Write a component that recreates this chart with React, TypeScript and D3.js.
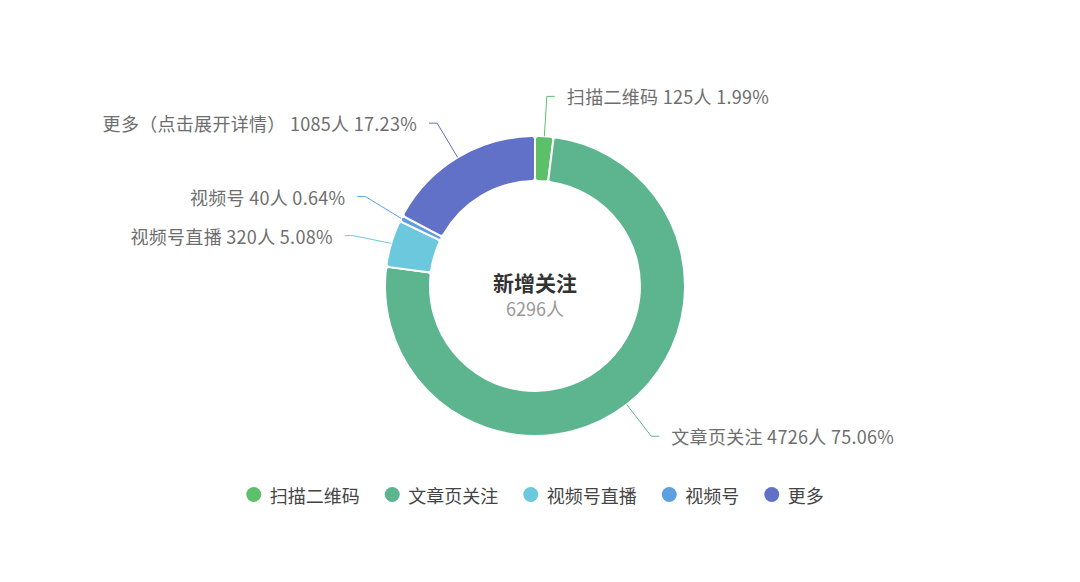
import React from 'react';
import * as d3 from 'd3';

const names = ['扫描二维码', '文章页关注', '视频号直播', '视频号', '更多'];
const labelNames = ['扫描二维码', '文章页关注', '视频号直播', '视频号', '更多（点击展开详情）'];
const values = [125, 4726, 320, 40, 1085];
const colors = ['#5cc06a', '#5db58f', '#6cc8dd', '#5e9fe0', '#6171c7'];
const centerTitle = '新增关注';
const unit = '人';

const W = 1080;
const H = 582;
const CX = 535;
const CY = 286;
const R_OUT = 150;
const R_IN = 105;
const LEN1 = 40;
const LEN2 = 8;
const TEXT_GAP = 12;
const MIN_GAP = 39;
const FONT = '"Noto Sans CJK SC", "Noto Sans", sans-serif';

export default function App() {
  const total = d3.sum(values);
  const pie = d3.pie<number>().sort(null).startAngle(0).endAngle(Math.PI * 2).value((d) => d);
  const arcs = pie(values);
  const arcGen = d3.arc<d3.PieArcDatum<number>>().innerRadius(R_IN).outerRadius(R_OUT).cornerRadius(3);

  // label layout
  const labels = arcs.map((a, i) => {
    const mid = (a.startAngle + a.endAngle) / 2;
    const s = Math.sin(mid);
    const c = Math.cos(mid);
    const p1 = [CX + R_OUT * s, CY - R_OUT * c];
    const r2 = R_OUT + LEN1;
    const p2 = [CX + r2 * s, CY - r2 * c];
    const right = s >= 0;
    const pct = ((values[i] / total) * 100).toFixed(2) + '%';
    return { i, p1, p2, right, text: `${labelNames[i]} ${values[i]}${unit} ${pct}` };
  });
  [true, false].forEach((side) => {
    const group = labels.filter((l) => l.right === side).sort((a, b) => a.p2[1] - b.p2[1]);
    for (let iter = 0; iter < 10; iter++) {
      for (let k = 1; k < group.length; k++) {
        const diff = group[k].p2[1] - group[k - 1].p2[1];
        if (diff < MIN_GAP) {
          const d = (MIN_GAP - diff) / 2;
          group[k - 1].p2[1] -= d;
          group[k].p2[1] += d;
        }
      }
    }
  });

  // legend layout
  const legendFont = 18;
  const circleR = 7.5;
  const textOffset = 23.5;
  const itemGap = 25;
  const widths = names.map((n) => textOffset + n.length * legendFont);
  const totalW = d3.sum(widths) + itemGap * (names.length - 1);
  let lx = CX - totalW / 2;
  const legendItems = names.map((n, i) => {
    const x = lx;
    lx += widths[i] + itemGap;
    return { n, x, color: colors[i] };
  });
  const legendY = 494.5;

  return (
    <svg width={W} height={H} style={{ position: 'absolute', left: 0, top: 0, background: '#fff' }} fontFamily={FONT}>
      <g transform={`translate(${CX},${CY})`}>
        {arcs.map((a, i) => (
          <path key={i} d={arcGen(a) || ''} fill={colors[i]} stroke="#fff" strokeWidth={2} strokeLinejoin="round" />
        ))}
      </g>
      {labels.map((l) => {
        const p3x = l.p2[0] + (l.right ? LEN2 : -LEN2);
        return (
          <g key={l.i}>
            <polyline
              points={`${l.p1[0]},${l.p1[1]} ${l.p2[0]},${l.p2[1]} ${p3x},${l.p2[1]}`}
              fill="none"
              stroke={colors[l.i]}
              strokeWidth={1}
            />
            <text
              x={p3x + (l.right ? TEXT_GAP : -TEXT_GAP)}
              y={l.p2[1]}
              dominantBaseline="central"
              textAnchor={l.right ? 'start' : 'end'}
              fontSize={18}
              letterSpacing={0.3}
              fill="#6e6e6e"
            >
              {l.text}
            </text>
          </g>
        );
      })}
      <text x={CX} y={282} textAnchor="middle" dominantBaseline="central" fontSize={21} fontWeight="bold" fill="#333">
        {centerTitle}
      </text>
      <text x={CX} y={308} textAnchor="middle" dominantBaseline="central" fontSize={18} fill="#999">
        {`${total}${unit}`}
      </text>
      {legendItems.map((it, i) => (
        <g key={i}>
          <circle cx={it.x + circleR} cy={legendY} r={circleR} fill={it.color} />
          <text x={it.x + textOffset} y={legendY} dominantBaseline="central" fontSize={legendFont} fill="#444">
            {it.n}
          </text>
        </g>
      ))}
    </svg>
  );
}
